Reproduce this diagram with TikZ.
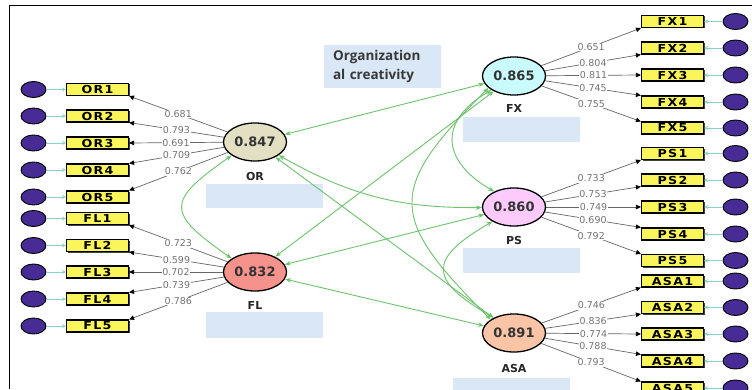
\documentclass[tikz,border=0pt]{standalone}
\usepackage{fontspec}
\usepackage{graphicx}
\setmainfont{DejaVu Sans}
\newfontfamily\orgfont{Open Sans}
\newfontfamily\indfont{DejaVu Sans}[LetterSpace=10]
\usetikzlibrary{arrows.meta,shapes.geometric,shadows}
\definecolor{corrgreen}{HTML}{6CC36C}
\definecolor{errcyan}{HTML}{8CCFCF}
\definecolor{indyellow}{HTML}{FAF55A}
\definecolor{errpurple}{HTML}{472C96}
\definecolor{boxblue}{HTML}{DAE7F6}
\definecolor{orfill}{HTML}{E3DFC3}
\definecolor{flfill}{HTML}{F5928C}
\definecolor{fxfill}{HTML}{C9FAFC}
\definecolor{psfill}{HTML}{FCCBFB}
\definecolor{asafill}{HTML}{FAC4A6}
\newcommand\indtxt[1]{\scalebox{1.15}[1]{#1}}
\begin{document}
\begin{tikzpicture}[x=1pt,y=1pt,
  latent/.style={ellipse, draw=black, line width=1.3pt, minimum width=63pt, minimum height=38pt, inner sep=0pt, font=\bfseries\fontsize{13}{15}\selectfont, text=black!80},
  indbox/.style={rectangle, draw=black, line width=1.1pt, fill=indyellow, minimum width=62pt, minimum height=12pt, inner sep=0pt, font=\indfont\bfseries\fontsize{11}{11}\selectfont, drop shadow={shadow xshift=1pt, shadow yshift=-1pt, fill=black!75, opacity=1}},
  errc/.style={ellipse, draw=black, line width=0.9pt, fill=errpurple, minimum width=25pt, minimum height=16pt, inner sep=0pt},
  load/.style={draw=black!60, line width=0.7pt, -{Triangle[length=5pt,width=4.5pt,color=black]}},
  lbl/.style={fill=white, inner sep=0.6pt, text=black!55, font=\fontsize{9.5}{10}\selectfont},
  err/.style={draw=errcyan, line width=0.9pt, -{Stealth[length=4pt,width=4pt]}},
  corr/.style={draw=corrgreen, line width=0.9pt, {Stealth[length=6pt,width=4.5pt]}-{Stealth[length=6pt,width=4.5pt]}},
  nm/.style={font=\bfseries\fontsize{11}{12}\selectfont, text=black!85, inner sep=0pt},
  blk/.style={fill=boxblue, draw=none, inner sep=0pt}
]
\useasboundingbox (0,0) rectangle (752,389);
\clip (0,0) rectangle (752,389);
\fill[white] (0,0) rectangle (752,389);
\draw[line width=0.8pt] (9,0) -- (9,384) -- (752,384);

% latent variables
\node[latent, fill=orfill] (OR) at (255,247) {0.847};
\node[latent, fill=flfill] (FL) at (255,117) {0.832};
\node[latent, fill=fxfill] (FX) at (514,313) {0.865};
\node[latent, fill=psfill] (PS) at (514,182) {0.860};
\node[latent, fill=asafill] (ASA) at (514,56) {0.891};

\node[nm] (nOR) at (255,213) {OR};
\node[nm] (nFL) at (255,84) {FL};
\node[nm] (nFX) at (514,281) {FX};
\node[nm] (nPS) at (514,149) {PS};
\node[nm] (nASA) at (514,21) {ASA};

% blue boxes
\node[blk, minimum width=117pt, minimum height=24pt] (rOR) at (264.5,193) {};
\node[blk, minimum width=117pt, minimum height=26pt] (rFL) at (264.5,64) {};
\node[blk, minimum width=117pt, minimum height=25pt] (rFX) at (521.5,259.5) {};
\node[blk, minimum width=117pt, minimum height=25pt] (rPS) at (521.5,128.5) {};
\node[blk, minimum width=117pt, minimum height=14pt] (rASA) at (511.5,4) {};
\node[blk, minimum width=117pt, minimum height=43pt, text width=99pt, align=left,
      font=\orgfont\bfseries\fontsize{13.5}{19}\selectfont, text=black!78] (org) at (382.5,322.5)
      {Organization\\al creativity};

% left indicators
\foreach \n/\y/\a/\v in {OR1/299.5/south east/0.681, OR2/273/south east/0.793, OR3/246/east/0.691, OR4/219/north east/0.709, OR5/192/north east/0.762}{
  \node[indbox] (\n) at (97.5,\y) {\indtxt{\n}};
  \node[errc] (e\n) at (33.5,\y) {};
  \draw[err] (e\n) -- (\n);
  \draw[load] (OR) -- node[lbl]{\v} (\n.\a);
}
\foreach \n/\y/\a/\v in {FL1/170.5/south east/0.723, FL2/143.5/south east/0.599, FL3/117/east/0.702, FL4/90/north east/0.739, FL5/63/north east/0.786}{
  \node[indbox] (\n) at (97.5,\y) {\indtxt{\n}};
  \node[errc] (e\n) at (33.5,\y) {};
  \draw[err] (e\n) -- (\n);
  \draw[load] (FL) -- node[lbl]{\v} (\n.\a);
}
% right indicators
\foreach \n/\y/\a/\v in {FX1/367.5/south west/0.651, FX2/341/south west/0.804, FX3/314/west/0.811, FX4/287/north west/0.745, FX5/261/north west/0.755}{
  \node[indbox] (\n) at (672.5,\y) {\indtxt{\n}};
  \node[errc] (e\n) at (735.5,\y) {};
  \draw[err] (e\n) -- (\n);
  \draw[load] (FX) -- node[lbl]{\v} (\n.\a);
}
\foreach \n/\y/\a/\v in {PS1/235.5/south west/0.733, PS2/209/south west/0.753, PS3/182/west/0.749, PS4/155/north west/0.690, PS5/128.5/north west/0.792}{
  \node[indbox] (\n) at (672.5,\y) {\indtxt{\n}};
  \node[errc] (e\n) at (735.5,\y) {};
  \draw[err] (e\n) -- (\n);
  \draw[load] (PS) -- node[lbl]{\v} (\n.\a);
}
\foreach \n/\y/\a/\v in {ASA1/108/south west/0.746, ASA2/81.5/south west/0.836, ASA3/55/west/0.774, ASA4/28/north west/0.788, ASA5/1/north west/0.793}{
  \node[indbox] (\n) at (672.5,\y) {\indtxt{\n}};
  \node[errc] (e\n) at (735.5,\y) {};
  \draw[err] (e\n) -- (\n);
  \draw[load] (ASA) -- node[lbl]{\v} (\n.\a);
}

% correlations
\draw[corr] (OR) -- (FX);
\draw[corr] (OR) to[bend right=15] (PS);
\draw[corr] (OR) -- (ASA);
\draw[corr] (FL) -- (FX);
\draw[corr] (FL) -- (PS);
\draw[corr] (FL) -- (ASA);
\draw[corr] (OR.210) to[out=215,in=145,looseness=2] (FL.150);
\draw[corr] (FX.212) to[out=210,in=150,looseness=1.55] (PS.142);
\draw[corr] (PS.214) to[out=210,in=150,looseness=2] (ASA.143);
\draw[corr] (FX.205) to[out=225,in=135,looseness=1.6] (ASA.150);
\end{tikzpicture}
\end{document}
